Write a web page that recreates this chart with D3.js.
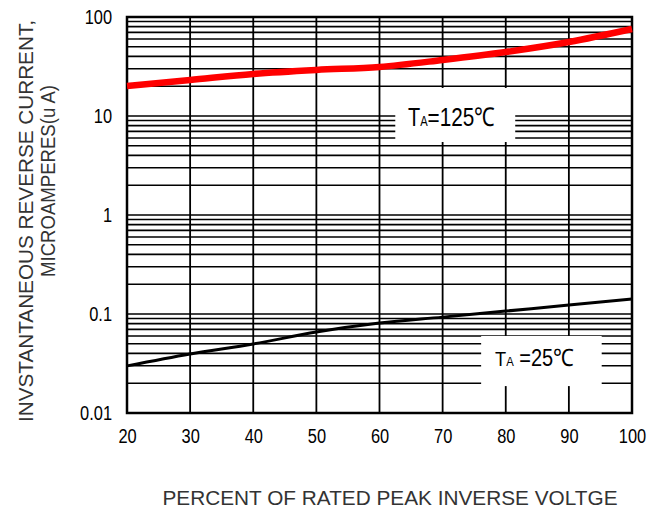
<!DOCTYPE html>
<html>
<head>
<meta charset="utf-8">
<script src="https://cdn.jsdelivr.net/npm/d3@7"></script>
<style>
  body { margin: 0; background: #fff; }
  svg { display: block; }
  text { font-family: "Liberation Sans", Arial, sans-serif; }
</style>
</head>
<body>
<svg width="665" height="508"></svg>
<script>
// percent of rated peak inverse voltage
const percent = [20, 30, 40, 50, 60, 70, 80, 90, 100];
// reverse current (uA)
const current125 = [20.1, 23.1, 26.6, 29.2, 31.3, 36.8, 44.3, 55.9, 75.7];
const current25 = [0.0299, 0.0395, 0.0498, 0.0658, 0.081, 0.093, 0.107, 0.123, 0.142];
const xTicks = [20, 30, 40, 50, 60, 70, 80, 90, 100];
const yTicks = [0.01, 0.1, 1, 10, 100];
const yTickLabels = ["0.01", "0.1", "1", "10", "100"];

const svg = d3.select('svg');
const plotLeft = 127, plotRight = 632, plotTop = 17, plotBottom = 413;

const xScale = d3.scaleLinear().domain([20, 100]).range([plotLeft, plotRight]);
const yScale = d3.scaleLog().domain([0.01, 100]).range([plotBottom, plotTop]);

// squeeze a text horizontally (the original uses a narrow font)
function squeeze(sel, k) {
  sel.each(function() {
    const len = this.getComputedTextLength();
    d3.select(this).attr('textLength', len * k).attr('lengthAdjust', 'spacingAndGlyphs');
  });
}

// horizontal grid: 1..9 in every decade
let minor = [];
for (let d = 0.01; d < 99; d *= 10) {
  for (let k = 1; k <= 9; k++) minor.push(+(k * d).toPrecision(3));
}
minor.push(100);

const grid = svg.append('g');
grid.selectAll('line.h')
  .data(minor)
  .enter().append('line')
  .attr('x1', plotLeft).attr('x2', plotRight)
  .attr('y1', d => yScale(d)).attr('y2', d => yScale(d))
  .attr('stroke', '#000').attr('stroke-width', 1.6);

grid.selectAll('line.v')
  .data(xTicks)
  .enter().append('line')
  .attr('x1', d => xScale(d)).attr('x2', d => xScale(d))
  .attr('y1', plotTop).attr('y2', plotBottom)
  .attr('stroke', '#000').attr('stroke-width', 1.8);

// white boxes behind the temperature labels (data space)
const boxes = [
  { x0: 62.5, x1: 81.5, y0: 19.2, y1: 5.46 },
  { x0: 76.1, x1: 95.2, y0: 0.06, y1: 0.0187 }
];
svg.selectAll('rect.box')
  .data(boxes)
  .enter().append('rect')
  .attr('x', d => xScale(d.x0))
  .attr('y', d => yScale(d.y0))
  .attr('width', d => xScale(d.x1) - xScale(d.x0))
  .attr('height', d => yScale(d.y1) - yScale(d.y0))
  .attr('fill', '#fff');

// frame
svg.append('rect')
  .attr('x', plotLeft).attr('y', plotTop)
  .attr('width', plotRight - plotLeft).attr('height', plotBottom - plotTop)
  .attr('fill', 'none').attr('stroke', '#000').attr('stroke-width', 2.5);

// curves
const line = d3.line()
  .x((d, i) => xScale(percent[i]))
  .y(d => yScale(d))
  .curve(d3.curveMonotoneX);

svg.append('path')
  .attr('d', line(current125))
  .attr('fill', 'none').attr('stroke', '#ff0000').attr('stroke-width', 6.5);

svg.append('path')
  .attr('d', line(current25))
  .attr('fill', 'none').attr('stroke', '#000').attr('stroke-width', 3);

// axes (tick labels only)
const yAxis = svg.append('g')
  .attr('transform', `translate(${plotLeft},0)`)
  .call(d3.axisLeft(yScale).tickValues(yTicks)
    .tickFormat((d, i) => yTickLabels[i]).tickSize(0).tickPadding(15));
yAxis.select('.domain').remove();
yAxis.selectAll('text')
  .attr('font-family', '"Liberation Sans", Arial, sans-serif')
  .attr('font-size', 20).attr('fill', '#000').call(squeeze, 0.82);

const xAxis = svg.append('g')
  .attr('transform', `translate(0,${plotBottom})`)
  .call(d3.axisBottom(xScale).tickValues(xTicks).tickSize(0).tickPadding(16));
xAxis.select('.domain').remove();
xAxis.selectAll('text')
  .attr('font-family', '"Liberation Sans", Arial, sans-serif')
  .attr('font-size', 20).attr('fill', '#000').call(squeeze, 0.82);

// temperature labels, squeezed to the narrow look of the original
function tempLabel(x, y, parts, width) {
  const g = svg.append('g');
  const t = g.append('text').attr('fill', '#000');
  parts.forEach(p => t.append('tspan').attr('font-size', p[1]).text(p[0]));
  const w = t.node().getBBox().width;
  g.attr('transform', `translate(${x},${y}) scale(${width / w},1)`);
}
tempLabel(408, 126, [['T', 25], ['A', 14], ['=125', 26], ['℃', 26]], 87);
tempLabel(495, 366, [['T', 21], ['A', 13], [' =25', 23], ['℃', 24]], 79);

// axis titles
svg.append('text')
  .attr('transform', 'translate(33,221) rotate(-90)')
  .attr('text-anchor', 'middle')
  .attr('font-size', 20).attr('fill', '#333')
  .attr('textLength', 402).attr('lengthAdjust', 'spacingAndGlyphs')
  .text('INVSTANTANEOUS REVERSE CURRENT,');

svg.append('text')
  .attr('transform', 'translate(55,181) rotate(-90)')
  .attr('text-anchor', 'middle')
  .attr('font-size', 20).attr('fill', '#333')
  .attr('textLength', 192).attr('lengthAdjust', 'spacingAndGlyphs')
  .text('MICROAMPERES(u A)');

svg.append('text')
  .attr('x', 390).attr('y', 505)
  .attr('text-anchor', 'middle')
  .attr('font-size', 21).attr('fill', '#333')
  .attr('textLength', 455).attr('lengthAdjust', 'spacingAndGlyphs')
  .text('PERCENT OF RATED PEAK INVERSE VOLTGE');
</script>
</body>
</html>
